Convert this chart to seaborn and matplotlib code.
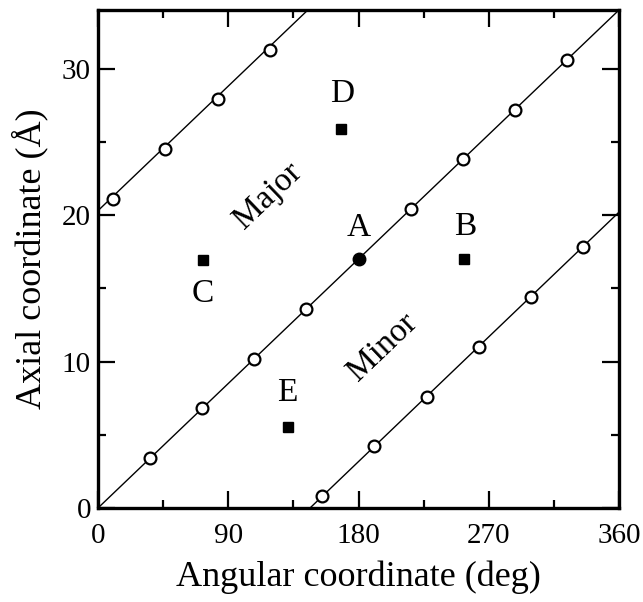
import numpy as np
import pandas as pd
import matplotlib
matplotlib.use("Agg")
import matplotlib.pyplot as plt
import seaborn as sns
from matplotlib.ticker import MultipleLocator

# Phosphate positions (angle in deg, rise in Angstrom) on the helical projection
strand1_angle = [36, 72, 108, 144, 180, 216, 252, 288, 324]
strand1_rise = [3.4, 6.8, 10.2, 13.6, 17.0, 20.4, 23.8, 27.2, 30.6]
strand2_angle = [155, 191, 227, 263, 299, 335]
strand2_rise = [0.8, 4.2, 7.6, 11.0, 14.4, 17.8]
strand2b_angle = [10.6, 46.6, 82.6, 118.6]
strand2b_rise = [21.1, 24.5, 27.9, 31.3]

# Backbone traces (end points of each helical line)
trace1_angle = [0, 360]
trace1_rise = [0, 34]
trace2_angle = [146.5, 360]
trace2_rise = [0, 20.2]
trace3_angle = [0, 145]
trace3_rise = [20.3, 34]

# Reference site A and probe sites B-E
site_labels = ["A", "B", "C", "D", "E"]
site_angle = [180, 253, 72.5, 168, 131]
site_rise = [17.0, 17.0, 16.9, 25.9, 5.5]
label_angle = [180, 254, 72.5, 168.5, 131]
label_rise = [19.1, 19.2, 14.6, 28.3, 7.9]

groove_names = ["Major", "Minor"]
groove_angle = [117.5, 196.5]
groove_rise = [21.3, 11.0]

sns.set_style("ticks")
plt.rcParams["font.family"] = ["Liberation Serif", "DejaVu Serif"]
for key in ["text.color", "axes.labelcolor", "xtick.color", "ytick.color",
            "axes.edgecolor"]:
    plt.rcParams[key] = "black"

fig = plt.figure(figsize=(6.43, 6.02), dpi=100)
ax = fig.add_axes([98 / 643, 1 - 508 / 602, (619 - 98) / 643, (508 - 10) / 602])

for xa, ya in [(trace1_angle, trace1_rise), (trace2_angle, trace2_rise),
               (trace3_angle, trace3_rise)]:
    sns.lineplot(x=xa, y=ya, ax=ax, color="black", lw=1.0, estimator=None,
                 sort=False, legend=False)

phos = pd.DataFrame({
    "angle": strand1_angle + strand2_angle + strand2b_angle,
    "rise": strand1_rise + strand2_rise + strand2b_rise,
})
phos = phos[phos["angle"] != 180]
ax.plot(phos["angle"], phos["rise"], ls="none", marker="o", ms=8.5,
        mfc="white", mec="black", mew=1.6, zorder=3)

sites = pd.DataFrame({"label": site_labels, "angle": site_angle, "rise": site_rise})
ax.plot(sites["angle"][:1], sites["rise"][:1], ls="none", marker="o", ms=9,
        color="black", zorder=4)
ax.plot(sites["angle"][1:], sites["rise"][1:], ls="none", marker="s", ms=6.5,
        color="black", zorder=4)

for lab, xa, ya in zip(site_labels, label_angle, label_rise):
    ax.text(xa, ya, lab, fontsize=24, ha="center", va="center", color="black")

for name, xa, ya in zip(groove_names, groove_angle, groove_rise):
    ax.text(xa, ya, name, fontsize=24, ha="center", va="center", color="black",
            rotation=43.7, rotation_mode="anchor")

ax.set_xlim(0, 360)
ax.set_ylim(0, 34)
ax.xaxis.set_major_locator(MultipleLocator(90))
ax.xaxis.set_minor_locator(MultipleLocator(45))
ax.yaxis.set_major_locator(MultipleLocator(10))
ax.yaxis.set_minor_locator(MultipleLocator(5))
ax.tick_params(which="both", direction="in", top=True, right=True,
               width=1.6, labelsize=21, color="black", labelcolor="black")
ax.tick_params(which="major", length=12)
ax.tick_params(which="minor", length=6)
ax.tick_params(axis="x", which="major", pad=11)
ax.tick_params(axis="y", which="major", pad=5)
for s in ax.spines.values():
    s.set_linewidth(2.4)
    s.set_color("black")

ax.set_xlabel("Angular coordinate (deg)", fontsize=26, labelpad=8, color="black")
ax.set_ylabel("Axial coordinate (Å)", fontsize=26, labelpad=10, color="black")

fig.savefig("out.png", dpi=100)
